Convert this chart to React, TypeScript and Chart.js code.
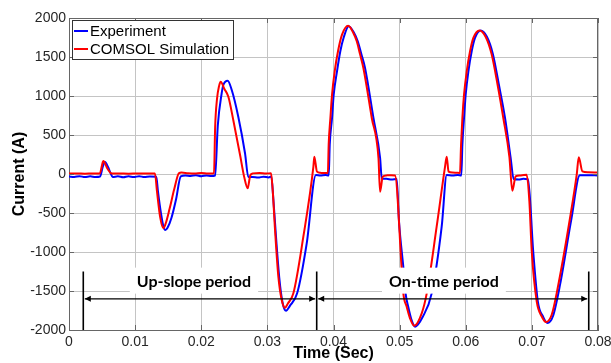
import React, { useEffect, useRef } from 'react';
import { Chart, registerables } from 'chart.js';

Chart.register(...registerables);

// ---------- data ----------
const seriesNames = ['Experiment', 'COMSOL Simulation'];

const expTime = [
  0, 0.0008, 0.0016, 0.0024, 0.0032, 0.004, 0.0047, 0.0051, 0.00545, 0.0059, 0.0063, 0.0066,
  0.0074, 0.0082, 0.009, 0.0098, 0.0106, 0.0114, 0.0122, 0.0132,
  0.01345, 0.0139, 0.0143, 0.01457, 0.0149, 0.0155, 0.0162, 0.0169,
  0.0176, 0.0184, 0.0192, 0.02, 0.0208, 0.0215, 0.0221,
  0.0225, 0.02309, 0.02334, 0.024, 0.0246, 0.0256, 0.02662, 0.02712,
  0.0278, 0.0286, 0.0294, 0.0302, 0.0306,
  0.0309, 0.0313, 0.0318, 0.0323, 0.03282, 0.0334, 0.0345, 0.03595, 0.03734,
  0.038, 0.0388, 0.03928,
  0.03943, 0.03978, 0.04003, 0.04053, 0.04103, 0.04154, 0.0423, 0.0431, 0.04367, 0.0442, 0.04477, 0.04604, 0.04705, 0.0473,
  0.048, 0.0488, 0.04956,
  0.0499, 0.0506, 0.0509, 0.0513, 0.0518, 0.05234, 0.0535, 0.05485, 0.05636, 0.05712,
  0.058, 0.0588, 0.05933,
  0.05949, 0.05974, 0.05999, 0.0604, 0.0609, 0.0614, 0.06226, 0.0632, 0.0641, 0.065, 0.06594, 0.0668, 0.06724,
  0.068, 0.0687, 0.06942,
  0.0702, 0.0709, 0.0717, 0.07234, 0.0732, 0.07426, 0.076, 0.07725,
  0.0785, 0.08,
];
const expCurrent = [
  -32, -38, -28, -40, -30, -38, -32, 90, 155, 90, 10, -38,
  -30, -42, -30, -40, -28, -40, -32, -36,
  -220, -500, -680, -718, -690, -560, -320, -30,
  -18, -25, -15, -28, -18, -26, -20,
  620, 1035, 1141, 1196, 1080, 735, 266, -40,
  -38, -46, -34, -44, -32,
  -320, -800, -1330, -1650, -1752, -1690, -1530, -889, -13,
  -20, -12, -20,
  376, 718, 1017, 1316, 1573, 1750, 1895, 1810, 1701, 1540, 1359, 718, 205, -60,
  -62, -70, -64,
  -600, -1230, -1530, -1701, -1870, -1957, -1830, -1530, -676, -13,
  -20, -12, -18,
  376, 718, 1017, 1316, 1573, 1744, 1840, 1760, 1540, 1150, 718, 200, -64,
  -70, -62, -66,
  -991, -1632, -1830, -1910, -1820, -1419, -564, -17,
  -15, -18,
];

const simTime = [
  0, 0.0012, 0.0024, 0.0036, 0.00464, 0.0051, 0.0052, 0.0058, 0.00645, 0.0075, 0.009, 0.0105,
  0.012, 0.013, 0.0133, 0.0138, 0.01427, 0.0146, 0.0152, 0.0159, 0.01664, 0.017, 0.018, 0.019,
  0.02, 0.021, 0.02193, 0.0221, 0.02238, 0.0227, 0.02294, 0.0235, 0.0241, 0.02485, 0.0259,
  0.0265, 0.02702, 0.0274, 0.0278, 0.0288, 0.0298, 0.03055, 0.0308, 0.03116, 0.03166, 0.03217,
  0.03267, 0.0331, 0.03393, 0.03544, 0.03696, 0.0371, 0.0375, 0.038, 0.0386, 0.03915,
  0.03927, 0.03953, 0.03978, 0.04018, 0.04068, 0.04129, 0.04222, 0.043, 0.04352, 0.044, 0.04452, 0.04579, 0.0468, 0.04704,
  0.04745, 0.048, 0.0487, 0.0493, 0.05032, 0.05056, 0.05107, 0.05157, 0.05219, 0.05334, 0.0541,
  0.0556, 0.05687, 0.05712, 0.0574, 0.058, 0.0587, 0.05913,
  0.05929, 0.05949, 0.05974, 0.06015, 0.06065, 0.06115, 0.06208,
  0.063, 0.0639, 0.0648, 0.06568, 0.0666, 0.06704, 0.06755, 0.0682, 0.0688, 0.06922, 0.06962,
  0.06998, 0.07073, 0.07148, 0.07214, 0.073, 0.074, 0.07577, 0.07678, 0.07709, 0.07764, 0.0785,
  0.08,
];
const simCurrent = [
  5, 8, 4, 7, 5, 150, 167, 70, 5, 8, 4, 8,
  5, 6, -220, -560, -696, -640, -450, -200, 12, 18, 10, 6,
  12, 5, 10, 600, 960, 1130, 1183, 1090, 990, 690, 230,
  -40, -183, -20, 8, 12, 6, 10, -200, -718, -1316, -1615,
  -1714, -1660, -1530, -804, 94, 222, 30, 15, 12, 14,
  376, 718, 1017, 1316, 1573, 1786, 1900, 1808, 1701, 1540, 1359, 718, 205, -227,
  -34, -18, -15, -18, -1230, -1530, -1701, -1850, -1945, -1786, -1530,
  -676, 94, 222, 30, 18, 15, 14,
  376, 718, 1017, 1316, 1573, 1744, 1840,
  1760, 1540, 1150, 718, 220, -214, -30, -18, -12, -10, -350,
  -991, -1632, -1824, -1897, -1804, -1419, -564, -9, 214, 34, 22,
  18,
];

const xTickLabels = ['0', '0.01', '0.02', '0.03', '0.04', '0.05', '0.06', '0.07', '0.08'];
const yTickLabels = ['-2000', '-1500', '-1000', '-500', '0', '500', '1000', '1500', '2000'];

const periodLabels = ['Up-slope period', 'On-time period'];
const periodBounds = [0.00216, 0.03746, 0.0786];
const periodLabelTimes = [0.0189, 0.0567];
const periodLabelLevel = -1380;
const arrowLevel = -1600;
const markerTop = -1250;

// ---------- styles ----------
const seriesColors = ['#0000ff', '#ff0000'];
const FONT = "'Liberation Sans', Arial, Helvetica, sans-serif";
const LABEL_FONT = "Lato, Carlito, Calibri, 'Liberation Sans', sans-serif";
const AXIS_COLOR = '#666666';
const GRID_COLOR = '#c4c4c4';
const TICK_COLOR = '#262626';

export default function App() {
  const ref = useRef<HTMLCanvasElement>(null);

  useEffect(() => {
    const canvas = ref.current;
    if (!canvas) return;
    const toPoints = (ts: number[], vs: number[]) => ts.map((t, i) => ({ x: t, y: vs[i] }));

    const overlay = {
      id: 'periodOverlay',
      afterDatasetsDraw(chart: any) {
        const { ctx, chartArea: a, scales } = chart;
        const xs = scales.x;
        const ys = scales.y;
        ctx.save();

        // top / right box lines and inner tick marks
        ctx.strokeStyle = AXIS_COLOR;
        ctx.lineWidth = 1;
        ctx.beginPath();
        ctx.moveTo(a.left, a.top + 0.5);
        ctx.lineTo(a.right, a.top + 0.5);
        ctx.moveTo(a.right - 0.5, a.top);
        ctx.lineTo(a.right - 0.5, a.bottom);
        xs.ticks.forEach((t: any) => {
          const px = Math.round(xs.getPixelForValue(t.value)) + 0.5;
          ctx.moveTo(px, a.bottom);
          ctx.lineTo(px, a.bottom - 5);
          ctx.moveTo(px, a.top);
          ctx.lineTo(px, a.top + 5);
        });
        ys.ticks.forEach((t: any) => {
          const py = Math.round(ys.getPixelForValue(t.value)) + 0.5;
          ctx.moveTo(a.left, py);
          ctx.lineTo(a.left + 5, py);
          ctx.moveTo(a.right, py);
          ctx.lineTo(a.right - 5, py);
        });
        ctx.stroke();

        // period markers
        const bx = periodBounds.map((v) => xs.getPixelForValue(v));
        const yArrow = ys.getPixelForValue(arrowLevel);
        const yTop = ys.getPixelForValue(markerTop);
        ctx.strokeStyle = '#000';
        ctx.fillStyle = '#000';
        ctx.lineWidth = 1.6;
        ctx.beginPath();
        bx.forEach((px) => {
          ctx.moveTo(px, yTop);
          ctx.lineTo(px, a.bottom);
        });
        ctx.stroke();

        const head = (tipX: number, dir: number) => {
          ctx.beginPath();
          ctx.moveTo(tipX, yArrow);
          ctx.lineTo(tipX - dir * 6, yArrow - 3);
          ctx.lineTo(tipX - dir * 6, yArrow + 3);
          ctx.closePath();
          ctx.fill();
        };
        for (let i = 0; i < periodLabels.length; i++) {
          const x0 = bx[i] + 1.5;
          const x1 = bx[i + 1] - 1.5;
          ctx.lineWidth = 1.3;
          ctx.beginPath();
          ctx.moveTo(x0, yArrow);
          ctx.lineTo(x1, yArrow);
          ctx.stroke();
          head(x0, -1);
          head(x1, 1);
        }

        // period labels on white boxes
        ctx.font = `bold 16px ${LABEL_FONT}`;
        ctx.textAlign = 'center';
        ctx.textBaseline = 'middle';
        periodLabels.forEach((label, i) => {
          const cx = xs.getPixelForValue(periodLabelTimes[i]);
          const cy = ys.getPixelForValue(periodLabelLevel);
          const w = ctx.measureText(label).width;
          ctx.fillStyle = '#fff';
          ctx.fillRect(cx - w / 2 - 7, cy - 14, w + 14, 26);
          ctx.fillStyle = '#000';
          ctx.fillText(label, cx, cy);
        });

        // legend
        ctx.font = `15px ${FONT}`;
        const lx = Math.round(a.left) + 3;
        const ly = Math.round(a.top) + 2;
        const textW = Math.max(...seriesNames.map((n) => ctx.measureText(n).width));
        const bw = Math.round(18 + textW + 4);
        const bh = 39;
        ctx.fillStyle = '#fff';
        ctx.fillRect(lx, ly, bw, bh);
        ctx.strokeStyle = '#333';
        ctx.lineWidth = 1;
        ctx.strokeRect(lx + 0.5, ly + 0.5, bw, bh);
        ctx.textAlign = 'left';
        ctx.textBaseline = 'middle';
        seriesNames.forEach((n, i) => {
          const cy = ly + 11 + i * 18;
          ctx.strokeStyle = seriesColors[i];
          ctx.lineWidth = 2;
          ctx.beginPath();
          ctx.moveTo(lx + 2, cy);
          ctx.lineTo(lx + 16, cy);
          ctx.stroke();
          ctx.fillStyle = '#000';
          ctx.fillText(n, lx + 18, cy + 1);
        });

        ctx.restore();
      },
    };

    const chart = new Chart(canvas, {
      type: 'line',
      data: {
        datasets: [
          {
            label: seriesNames[0],
            data: toPoints(expTime, expCurrent),
            borderColor: seriesColors[0],
            backgroundColor: seriesColors[0],
            borderWidth: 2,
            pointRadius: 0,
            cubicInterpolationMode: 'monotone',
            order: 1,
          },
          {
            label: seriesNames[1],
            data: toPoints(simTime, simCurrent),
            borderColor: seriesColors[1],
            backgroundColor: seriesColors[1],
            borderWidth: 2,
            pointRadius: 0,
            cubicInterpolationMode: 'monotone',
            order: 0,
          },
        ],
      },
      options: {
        animation: false,
        responsive: false,
        maintainAspectRatio: false,
        layout: { padding: { left: 0, right: 13, top: 18, bottom: 0 } },
        plugins: {
          legend: { display: false },
          tooltip: { enabled: false },
        },
        scales: {
          x: {
            type: 'linear',
            min: 0,
            max: 0.08,
            ticks: {
              stepSize: 0.01,
              autoSkip: false,
              maxRotation: 0,
              padding: 4,
              color: TICK_COLOR,
              font: { family: FONT, size: 14 },
              callback: (_v: any, i: number) => xTickLabels[i],
            },
            grid: { color: GRID_COLOR, drawTicks: false, lineWidth: 1 },
            border: { color: AXIS_COLOR, width: 1 },
            title: {
              display: true,
              text: 'Time (Sec)',
              color: '#000',
              font: { family: FONT, size: 16, weight: 'bold' },
              padding: { top: 0, bottom: 0 },
            },
            afterFit: (s: any) => {
              s.height = 33;
              s.paddingLeft = 0;
              s.paddingRight = 0;
            },
          },
          y: {
            type: 'linear',
            min: -2000,
            max: 2000,
            ticks: {
              stepSize: 500,
              autoSkip: false,
              padding: 3,
              color: TICK_COLOR,
              font: { family: FONT, size: 14 },
              callback: (_v: any, i: number) => yTickLabels[i],
            },
            grid: { color: GRID_COLOR, drawTicks: false, lineWidth: 1 },
            border: { color: AXIS_COLOR, width: 1 },
            title: {
              display: true,
              text: 'Current (A)',
              color: '#000',
              font: { family: FONT, size: 16, weight: 'bold' },
              padding: { top: 10, bottom: 0 },
            },
            afterFit: (s: any) => {
              s.width = 69;
              s.paddingTop = 0;
              s.paddingBottom = 0;
            },
          },
        },
      },
      plugins: [overlay],
    } as any);

    return () => chart.destroy();
  }, []);

  return (
    <div style={{ position: 'fixed', left: 0, top: 0, width: 611, height: 363, background: '#fff' }}>
      <canvas ref={ref} width={611} height={363} style={{ display: 'block', width: 611, height: 363 }} />
    </div>
  );
}
